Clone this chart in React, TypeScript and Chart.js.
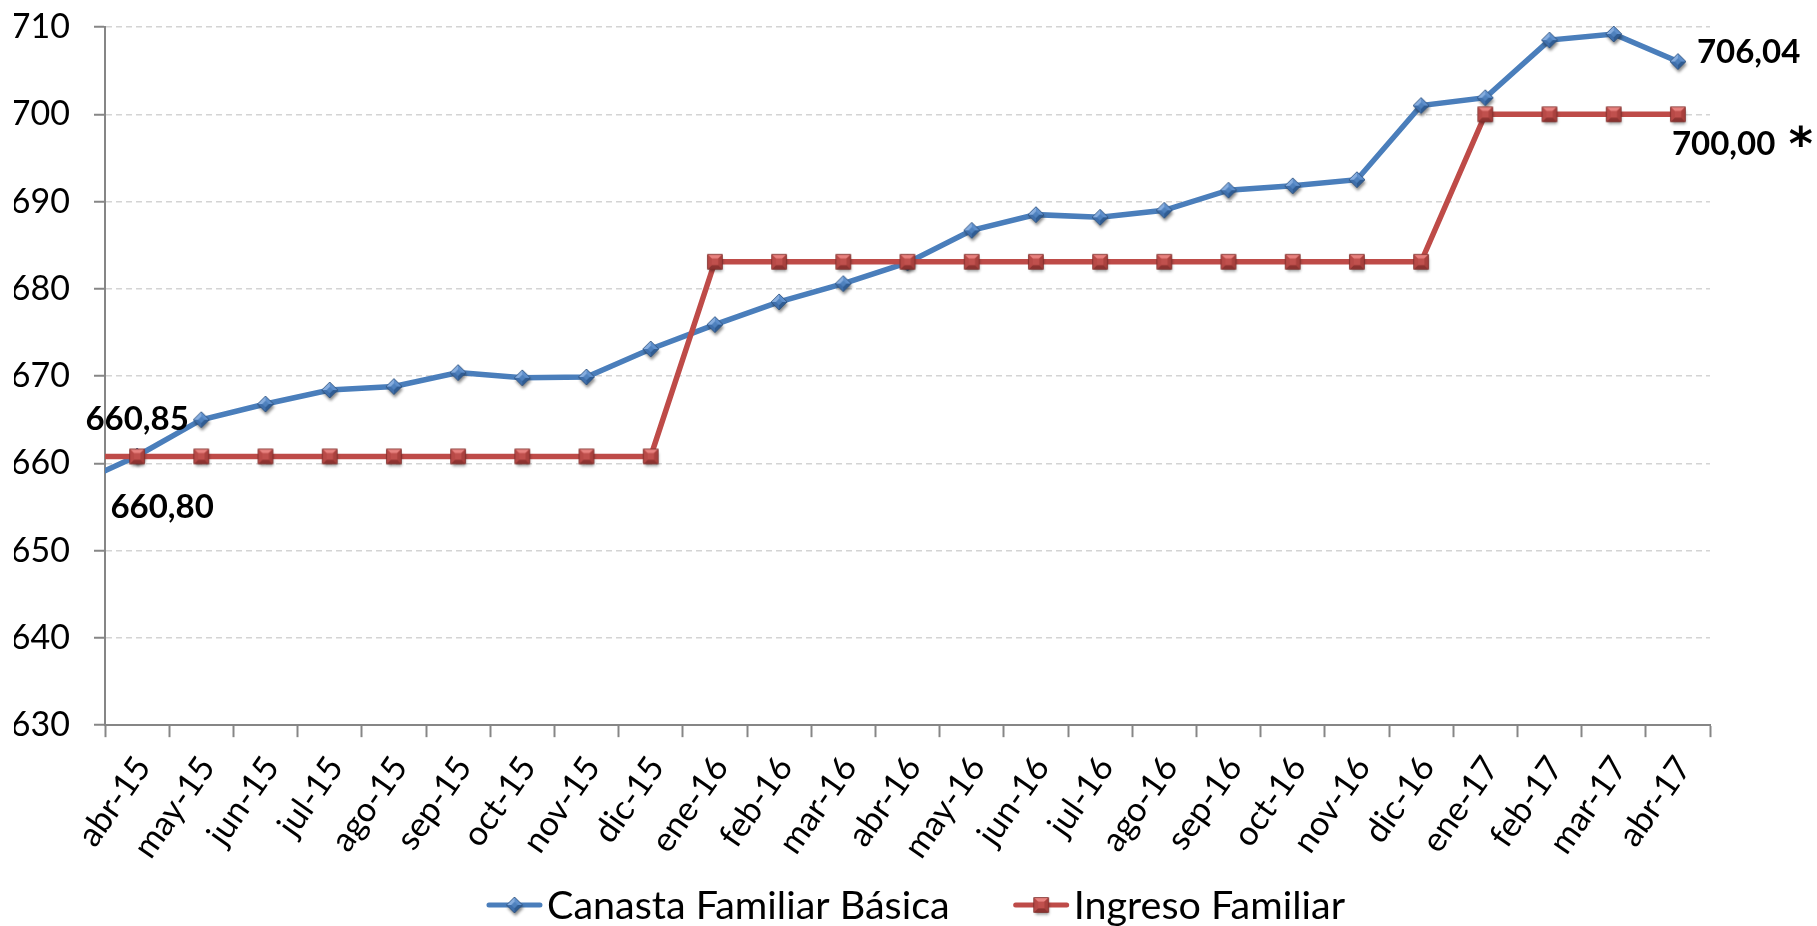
import React, { useEffect, useRef } from 'react';
import { Chart, registerables } from 'chart.js';

Chart.register(...registerables);

// ---------- data ----------
const categories = [
  'abr-15', 'may-15', 'jun-15', 'jul-15', 'ago-15', 'sep-15', 'oct-15', 'nov-15', 'dic-15',
  'ene-16', 'feb-16', 'mar-16', 'abr-16', 'may-16', 'jun-16', 'jul-16', 'ago-16', 'sep-16',
  'oct-16', 'nov-16', 'dic-16', 'ene-17', 'feb-17', 'mar-17', 'abr-17',
];
// previous month (mar-15): cut off by the left edge of the plot
const canastaLeadIn = 657.45;
const ingresoLeadIn = 660.8;
const canasta = [
  660.85, 665.0, 666.8, 668.4, 668.8, 670.4, 669.8, 669.9, 673.1,
  675.9, 678.5, 680.6, 683.0, 686.7, 688.5, 688.2, 689.0, 691.3,
  691.8, 692.5, 701.0, 701.9, 708.5, 709.2, 706.04,
];
const ingreso = [
  660.8, 660.8, 660.8, 660.8, 660.8, 660.8, 660.8, 660.8, 660.8,
  683.1, 683.1, 683.1, 683.1, 683.1, 683.1, 683.1, 683.1, 683.1,
  683.1, 683.1, 683.1, 700.0, 700.0, 700.0, 700.0,
];
const seriesNames = ['Canasta Familiar Básica', 'Ingreso Familiar'];
const yMin = 630;
const yMax = 710;
const yStep = 10;

// ---------- styles ----------
const FONT = 'Lato, "Open Sans", sans-serif';
const BLUE = '#4a7ebb';
const RED = '#be4b48';
const AXIS = '#868686';
const GRID = '#d4d4d4';

function makeDiamond(): HTMLCanvasElement {
  const c = document.createElement('canvas');
  c.width = 30; c.height = 30;
  const g = c.getContext('2d')!;
  const cx = 15, cy = 15, r = 8, q = 3;
  const T = [cx, cy - r], R = [cx + r, cy], B = [cx, cy + r], L = [cx - r, cy];
  const t = [cx, cy - q], rr = [cx + q, cy], b = [cx, cy + q], l = [cx - q, cy];
  const poly = (pts: number[][], fill: string) => {
    g.beginPath(); g.moveTo(pts[0][0], pts[0][1]);
    for (let i = 1; i < pts.length; i++) g.lineTo(pts[i][0], pts[i][1]);
    g.closePath(); g.fillStyle = fill; g.fill();
  };
  g.save();
  g.shadowColor = 'rgba(0,0,0,0.45)'; g.shadowBlur = 3; g.shadowOffsetX = 1; g.shadowOffsetY = 3;
  poly([T, R, B, L], '#4f81bd');
  g.restore();
  poly([L, T, t, l], '#86addf');
  poly([T, R, rr, t], '#5e8fcc');
  poly([R, B, b, rr], '#2f5c93');
  poly([B, L, l, b], '#3f6fab');
  poly([t, rr, b, l], '#4f81bd');
  g.beginPath(); g.moveTo(T[0], T[1]); g.lineTo(R[0], R[1]); g.lineTo(B[0], B[1]); g.lineTo(L[0], L[1]); g.closePath();
  g.strokeStyle = '#2d4f7a'; g.lineWidth = 0.8; g.stroke();
  return c;
}

function makeSquare(): HTMLCanvasElement {
  const c = document.createElement('canvas');
  c.width = 30; c.height = 30;
  const g = c.getContext('2d')!;
  const cx = 15, cy = 15, s = 7.3, q = 3.2;
  const TL = [cx - s, cy - s], TR = [cx + s, cy - s], BR = [cx + s, cy + s], BL = [cx - s, cy + s];
  const tl = [cx - q, cy - q], tr = [cx + q, cy - q], br = [cx + q, cy + q], bl = [cx - q, cy + q];
  const poly = (pts: number[][], fill: string) => {
    g.beginPath(); g.moveTo(pts[0][0], pts[0][1]);
    for (let i = 1; i < pts.length; i++) g.lineTo(pts[i][0], pts[i][1]);
    g.closePath(); g.fillStyle = fill; g.fill();
  };
  g.save();
  g.shadowColor = 'rgba(0,0,0,0.45)'; g.shadowBlur = 3; g.shadowOffsetX = 1; g.shadowOffsetY = 3;
  poly([TL, TR, BR, BL], '#c0504d');
  g.restore();
  poly([TL, TR, tr, tl], '#e8827f');
  poly([TR, BR, br, tr], '#a9413e');
  poly([BR, BL, bl, br], '#8d3331');
  poly([BL, TL, tl, bl], '#b84a47');
  poly([tl, tr, br, bl], '#c0504d');
  g.strokeStyle = '#7a2b29'; g.lineWidth = 0.8;
  g.strokeRect(TL[0], TL[1], 2 * s, 2 * s);
  return c;
}

const fmt = (v: number) => v.toFixed(2).replace('.', ',');

export default function App() {
  const ref = useRef<HTMLCanvasElement | null>(null);

  useEffect(() => {
    if (!ref.current) return;
    const diamond = makeDiamond();
    const square = makeSquare();

    const blueData = [{ x: -1, y: canastaLeadIn }, ...canasta.map((v, i) => ({ x: i, y: v }))];
    const redData = [{ x: -1, y: ingresoLeadIn }, ...ingreso.map((v, i) => ({ x: i, y: v }))];

    const textAt = (
      ctx: CanvasRenderingContext2D, text: string, x: number, cy: number,
      align: CanvasTextAlign, font: string, refGlyph?: string,
    ) => {
      ctx.font = font;
      ctx.textAlign = align;
      ctx.textBaseline = 'alphabetic';
      const m = ctx.measureText(refGlyph ?? text);
      const asc = m.actualBoundingBoxAscent;
      const desc = m.actualBoundingBoxDescent;
      ctx.fillText(text, x, cy + (asc - desc) / 2);
    };

    const labelPlugin = {
      id: 'valueLabels',
      afterDatasetsDraw(chart: any) {
        const ctx: CanvasRenderingContext2D = chart.ctx;
        const blue = chart.getDatasetMeta(0).data;
        const red = chart.getDatasetMeta(1).data;
        const f = `bold 33px ${FONT}`;
        ctx.save();
        ctx.fillStyle = '#000';
        const b0 = blue[1], r0 = red[1];
        const bl = blue[blue.length - 1], rl = red[red.length - 1];
        textAt(ctx, fmt(canasta[0]), b0.x, b0.y - 38, 'center', f, '0');
        textAt(ctx, fmt(ingreso[0]), r0.x + 25, r0.y + 50, 'center', f, '0');
        textAt(ctx, fmt(canasta[canasta.length - 1]), bl.x + 19, bl.y - 11, 'left', f, '0');
        textAt(ctx, fmt(ingreso[ingreso.length - 1]), rl.x - 6, rl.y + 29, 'left', f, '0');
        textAt(ctx, '*', rl.x + 123, rl.y + 22, 'center', `bold 46px "DejaVu Sans", ${FONT}`);
        ctx.restore();
      },
    };

    const legendPlugin = {
      id: 'lineLegend',
      afterDraw(chart: any) {
        const ctx: CanvasRenderingContext2D = chart.ctx;
        const font = `39.5px ${FONT}`;
        ctx.save();
        ctx.font = font;
        const symW = 57, gap = 4, itemGap = 63;
        const w0 = ctx.measureText(seriesNames[0]).width;
        const w1 = ctx.measureText(seriesNames[1]).width;
        const total = symW + gap + w0 + itemGap + symW + gap + w1;
        let x = chart.width / 2 + 7 - total / 2;
        const cy = chart.height - 21;
        const items = [
          { name: seriesNames[0], color: BLUE, img: diamond, w: w0 },
          { name: seriesNames[1], color: RED, img: square, w: w1 },
        ];
        items.forEach((it) => {
          ctx.strokeStyle = it.color;
          ctx.lineWidth = 5;
          ctx.lineCap = 'round';
          ctx.beginPath();
          ctx.moveTo(x + 3, cy);
          ctx.lineTo(x + symW - 3, cy);
          ctx.stroke();
          ctx.drawImage(it.img, x + symW / 2 - it.img.width / 2, cy - it.img.height / 2);
          ctx.fillStyle = '#000';
          textAt(ctx, it.name, x + symW + gap, cy, 'left', font, 'C');
          x += symW + gap + it.w + itemGap;
        });
        ctx.restore();
      },
    };

    const chart = new Chart(ref.current, {
      type: 'line',
      data: {
        datasets: [
          {
            label: seriesNames[0],
            data: blueData,
            borderColor: BLUE,
            borderWidth: 5.5,
            pointStyle: diamond as any,
            pointRadius: 8,
            tension: 0,
            order: 2,
            clip: { left: 0, top: 15, right: 15, bottom: 15 } as any,
          },
          {
            label: seriesNames[1],
            data: redData,
            borderColor: RED,
            borderWidth: 5.5,
            pointStyle: square as any,
            pointRadius: 8,
            tension: 0,
            order: 1,
            clip: { left: 0, top: 15, right: 15, bottom: 15 } as any,
          },
        ],
      },
      options: {
        responsive: false,
        animation: false,
        events: [],
        layout: { padding: { left: 14, right: 107, top: 27, bottom: 48 } },
        plugins: {
          legend: { display: false },
          tooltip: { enabled: false },
        },
        scales: {
          x: {
            type: 'linear',
            min: -0.5,
            max: categories.length - 0.5,
            afterBuildTicks: (scale: any) => {
              const t: { value: number }[] = [];
              for (let k = -1; k <= categories.length * 2 - 1; k++) t.push({ value: k / 2 });
              scale.ticks = t;
            },
            ticks: {
              autoSkip: false,
              maxRotation: 55,
              minRotation: 55,
              padding: 12,
              labelOffset: 6,
              color: '#000',
              font: { family: FONT, size: 34 },
              callback: (v: any) => (Number.isInteger(v) && v >= 0 && v < categories.length ? categories[v] : ''),
            },
            grid: {
              drawOnChartArea: false,
              drawTicks: true,
              tickLength: 12,
              tickWidth: 2,
              color: AXIS,
              tickColor: (c: any) => (Number.isInteger(c.tick?.value) ? 'rgba(0,0,0,0)' : AXIS),
            },
            border: { display: true, color: AXIS, width: 2 },
          },
          y: {
            min: yMin,
            max: yMax,
            afterFit: (scale: any) => {
              scale.width = 91;
              scale.paddingTop = 0;
              scale.paddingBottom = 0;
            },
            ticks: {
              stepSize: yStep,
              padding: 24,
              color: '#000',
              font: { family: FONT, size: 34 },
            },
            grid: {
              color: GRID,
              lineWidth: 1.5,
              tickColor: AXIS,
              tickLength: 11,
              tickWidth: 2,
              tickBorderDash: [],
            },
            border: { display: true, color: AXIS, width: 2, dash: [6, 4] },
          },
        },
      },
      plugins: [labelPlugin, legendPlugin],
    });
    return () => chart.destroy();
  }, []);

  return (
    <div style={{ position: 'fixed', left: 0, top: 0, width: 1817, height: 926, background: '#fff' }}>
      <canvas ref={ref} width={1817} height={926} />
    </div>
  );
}
